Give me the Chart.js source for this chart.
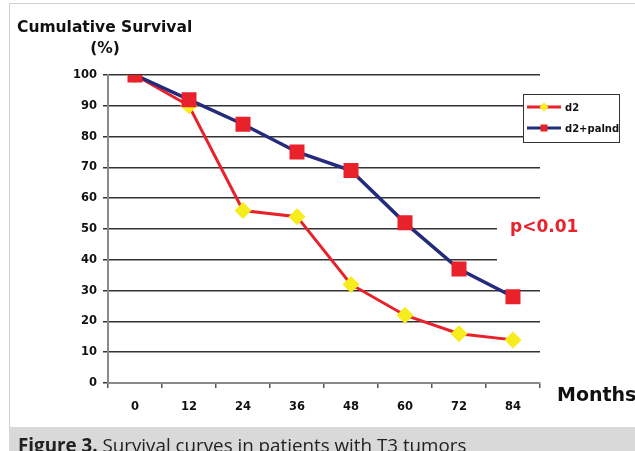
<!DOCTYPE html>
<html>
<head>
<meta charset="utf-8">
<script src="https://cdn.jsdelivr.net/npm/chart.js@4/dist/chart.umd.min.js"></script>
<style>
  html, body { margin: 0; padding: 0; background: #fff; }
  canvas { display: block; }
</style>
</head>
<body>
<canvas id="c" width="635" height="451"></canvas>
<script>
// Follow-up time points (months)
const months = ['0', '12', '24', '36', '48', '60', '72', '84'];
// Cumulative survival (%) per group
const survivalD2 = [100, 90, 56, 54, 32, 22, 16, 14];
const survivalD2Palnd = [100, 92, 84, 75, 69, 52, 37, 28];
// Y axis ticks
const yTicks = [0, 10, 20, 30, 40, 50, 60, 70, 80, 90, 100];

const RED = '#e8212b';
const NAVY = '#232c7c';
const YELLOW = '#f7ec1c';
const FONT = '"DejaVu Sans", Verdana, sans-serif';

// Frame, caption band, titles, legend and p-value annotation
const decor = {
  id: 'decor',
  beforeDraw(chart) {
    const ctx = chart.ctx;
    ctx.save();
    ctx.fillStyle = '#fff';
    ctx.fillRect(0, 0, 635, 451);
    // panel border
    ctx.strokeStyle = '#cfcfcf';
    ctx.lineWidth = 1;
    ctx.beginPath();
    ctx.moveTo(9.5, 427);
    ctx.lineTo(9.5, 3.5);
    ctx.lineTo(635, 3.5);
    ctx.stroke();
    // caption band
    ctx.fillStyle = '#d9d9d9';
    ctx.fillRect(9, 427, 626, 24);
    ctx.restore();
  },
  beforeDatasetsDraw(chart) {
    // clear the gridlines behind the p-value label
    const ctx = chart.ctx;
    ctx.save();
    ctx.fillStyle = '#fff';
    ctx.fillRect(497, 205, 60, 62);
    ctx.restore();
  },
  afterDraw(chart) {
    const ctx = chart.ctx;
    ctx.save();
    // axis titles
    ctx.fillStyle = '#111';
    ctx.font = 'bold 15.5px ' + FONT;
    ctx.textBaseline = 'alphabetic';
    ctx.textAlign = 'left';
    ctx.fillText('Cumulative Survival', 17, 32);
    ctx.textAlign = 'center';
    ctx.fillText('(%)', 105, 53);
    ctx.textAlign = 'left';
    ctx.font = 'bold 19px ' + FONT;
    ctx.fillText('Months', 557, 401);

    // p-value
    ctx.fillStyle = RED;
    ctx.font = 'bold 17px ' + FONT;
    ctx.fillText('p<0.01', 510, 232);

    // legend box
    ctx.fillStyle = '#fff';
    ctx.fillRect(523, 94, 97, 49);
    ctx.strokeStyle = '#333';
    ctx.lineWidth = 1;
    ctx.strokeRect(523.5, 94.5, 96, 48);
    const entries = [
      { y: 107, line: RED, fill: YELLOW, shape: 'diamond', text: 'd2' },
      { y: 128, line: NAVY, fill: RED, shape: 'square', text: 'd2+palnd' }
    ];
    entries.forEach(e => {
      ctx.strokeStyle = e.line;
      ctx.lineWidth = 3;
      ctx.beginPath();
      ctx.moveTo(527, e.y);
      ctx.lineTo(561, e.y);
      ctx.stroke();
      ctx.fillStyle = e.fill;
      ctx.beginPath();
      if (e.shape === 'diamond') {
        ctx.moveTo(544, e.y - 4.5);
        ctx.lineTo(548.5, e.y);
        ctx.lineTo(544, e.y + 4.5);
        ctx.lineTo(539.5, e.y);
        ctx.closePath();
      } else {
        ctx.rect(540.5, e.y - 3.5, 7, 7);
      }
      ctx.fill();
      ctx.fillStyle = '#111';
      ctx.font = 'bold 10px ' + FONT;
      ctx.textBaseline = 'middle';
      ctx.fillText(e.text, 565, e.y + 1);
    });

    // figure caption
    ctx.textBaseline = 'alphabetic';
    ctx.fillStyle = '#222';
    ctx.font = 'bold 18.8px "Open Sans", sans-serif';
    ctx.fillText('Figure 3.', 18, 452);
    const w = ctx.measureText('Figure 3. ').width;
    ctx.font = '18.8px "Open Sans", sans-serif';
    ctx.fillText('Survival curves in patients with T3 tumors', 18 + w, 452);
    ctx.restore();
  }
};

new Chart(document.getElementById('c'), {
  type: 'line',
  data: {
    labels: months,
    datasets: [
      {
        label: 'd2+palnd',
        data: survivalD2Palnd,
        borderColor: NAVY,
        borderWidth: 3.5,
        pointStyle: 'rect',
        pointRadius: 10.6,
        pointHoverRadius: 10.6,
        pointBackgroundColor: RED,
        pointBorderColor: RED,
        pointBorderWidth: 0,
        tension: 0,
        order: 0
      },
      {
        label: 'd2',
        data: survivalD2,
        borderColor: RED,
        borderWidth: 3,
        pointStyle: 'rectRot',
        pointRadius: 8.5,
        pointHoverRadius: 8.5,
        pointBackgroundColor: YELLOW,
        pointBorderColor: YELLOW,
        pointBorderWidth: 0,
        tension: 0,
        order: 1
      }
    ]
  },
  options: {
    responsive: false,
    animation: false,
    events: [],
    layout: { padding: { left: 0, top: 75, right: 95, bottom: 28 } },
    plugins: { legend: { display: false }, tooltip: { enabled: false } },
    scales: {
      x: {
        offset: true,
        grid: {
          offset: true,
          drawOnChartArea: false,
          drawTicks: true,
          tickLength: 5,
          color: '#555',
          lineWidth: 1.5
        },
        border: { display: true, color: '#8a8a8a', width: 2 },
        ticks: {
          color: '#111',
          font: { family: FONT, weight: 'bold', size: 11.5 },
          padding: 12,
          maxRotation: 0
        },
        afterFit(scale) { scale.height = 40; }
      },
      y: {
        min: 0,
        max: 100,
        afterBuildTicks(scale) { scale.ticks = yTicks.map(v => ({ value: v })); },
        grid: {
          color: '#333',
          lineWidth: 1.5,
          drawTicks: true,
          tickLength: 5
        },
        border: { display: true, color: '#8a8a8a', width: 2 },
        ticks: {
          color: '#111',
          font: { family: FONT, weight: 'bold', size: 11.5 },
          padding: 6
        },
        afterFit(scale) { scale.width = 108; }
      }
    }
  },
  plugins: [decor]
});
</script>
</body>
</html>
